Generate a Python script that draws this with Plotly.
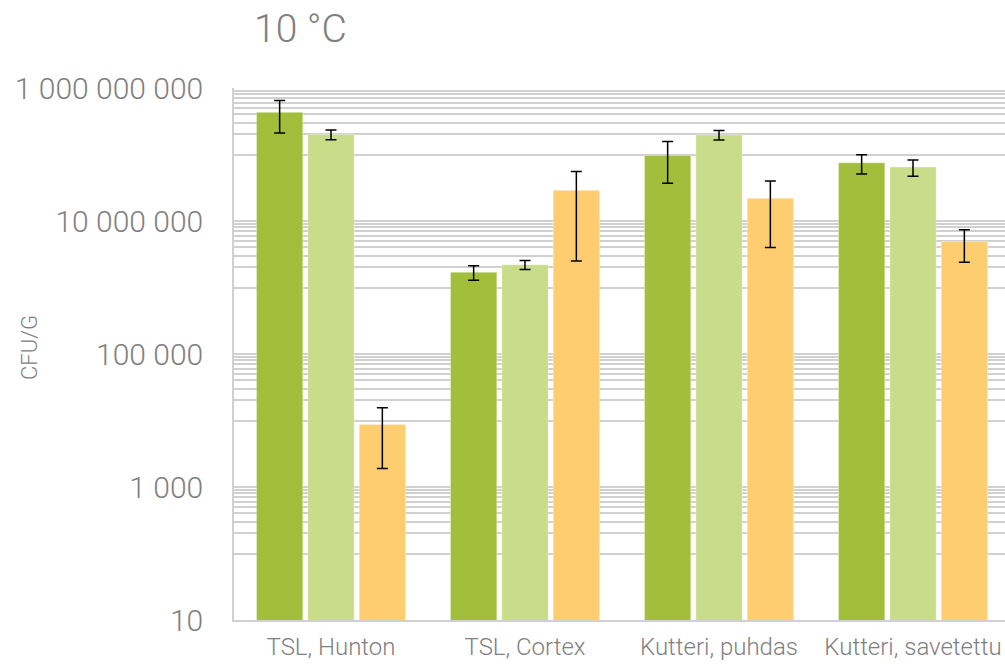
import plotly.graph_objects as go

# Sample categories
categories = ["TSL, Hunton", "TSL, Cortex", "Kutteri, puhdas", "Kutteri, savetettu"]

# Bacterial counts (CFU/g) with standard deviations, three series
series_a = [4.3e8, 1.7e6, 9.7e7, 7.5e7]
series_a_err = [2.2e8, 0.42e6, 6.0e7, 2.4e7]

series_b = [2.0e8, 2.2e6, 1.97e8, 6.5e7]
series_b_err = [3.3e7, 0.34e6, 3.2e7, 1.8e7]

series_c = [8.7e3, 2.9e7, 2.2e7, 4.9e6]
series_c_err = [6.8e3, 2.65e7, 1.8e7, 2.5e6]

# Labelled y ticks
y_tick_vals = [10, 1e3, 1e5, 1e7, 1e9]
y_tick_text = ["10", "1 000", "100 000", "10 000 000", "1 000 000 000"]

colors = ["#A2BE3A", "#C9DC89", "#FECD6F"]
TEXT = "#808080"
GRID = "#D0D0D0"

# Gridlines: every labelled power plus linear steps inside each base-100 interval
grid_vals = list(y_tick_vals)
grid_text = list(y_tick_text)
for exp in (2, 4, 6, 8):
    for m in range(1, 10):
        grid_vals.append(m * 10 ** exp)
        grid_text.append("")

fig = go.Figure()
for name, vals, errs, col in [
    ("a", series_a, series_a_err, colors[0]),
    ("b", series_b, series_b_err, colors[1]),
    ("c", series_c, series_c_err, colors[2]),
]:
    fig.add_trace(go.Bar(
        name=name,
        x=categories,
        y=vals,
        marker=dict(color=col, line=dict(color="rgba(255,255,255,0.35)", width=1)),
        error_y=dict(type="data", array=errs, symmetric=True,
                     color="#000000", thickness=1.5, width=5.5),
    ))

L, R = 234, 0
plot_w = 1005 - L - R
cat_px = 194.0

fig.update_layout(
    width=1005,
    height=664,
    margin=dict(l=L, r=R, t=88, b=44, pad=0, autoexpand=False),
    paper_bgcolor="white",
    plot_bgcolor="white",
    barmode="group",
    bargap=0.206,
    bargroupgap=0.0975,
    showlegend=False,
    annotations=[
        dict(text="10 °C", xref="paper", yref="paper",
             x=(252 - L) / plot_w, y=1 + 59 / 532,
             xanchor="left", yanchor="middle", showarrow=False,
             font=dict(family="Roboto", size=39, color=TEXT, weight=300)),
        dict(text="CFU/G", xref="paper", yref="paper",
             x=(29 - L) / plot_w, y=(620 - 348) / 532,
             xanchor="center", yanchor="middle", showarrow=False, textangle=-90,
             font=dict(family="Roboto", size=22, color=TEXT, weight=300)),
    ],
)

fig.update_xaxes(
    type="category",
    automargin=False,
    range=[-0.5, -0.5 + plot_w / cat_px],
    showgrid=False,
    showline=True,
    linecolor=GRID,
    linewidth=1.6,
    ticks="",
    ticklabelstandoff=4,
    tickfont=dict(family="Roboto", size=24, color=TEXT, weight=300),
    zeroline=False,
)

fig.update_yaxes(
    type="log",
    automargin=False,
    range=[1, 9],
    tickmode="array",
    tickvals=grid_vals,
    ticktext=grid_text,
    showgrid=True,
    gridcolor=GRID,
    gridwidth=1.6,
    showline=True,
    linecolor=GRID,
    linewidth=1.6,
    ticks="",
    ticklabelstandoff=23,
    tickfont=dict(family="Roboto", size=30, color=TEXT, weight=300),
    zeroline=False,
)

fig.write_html("out.html")
